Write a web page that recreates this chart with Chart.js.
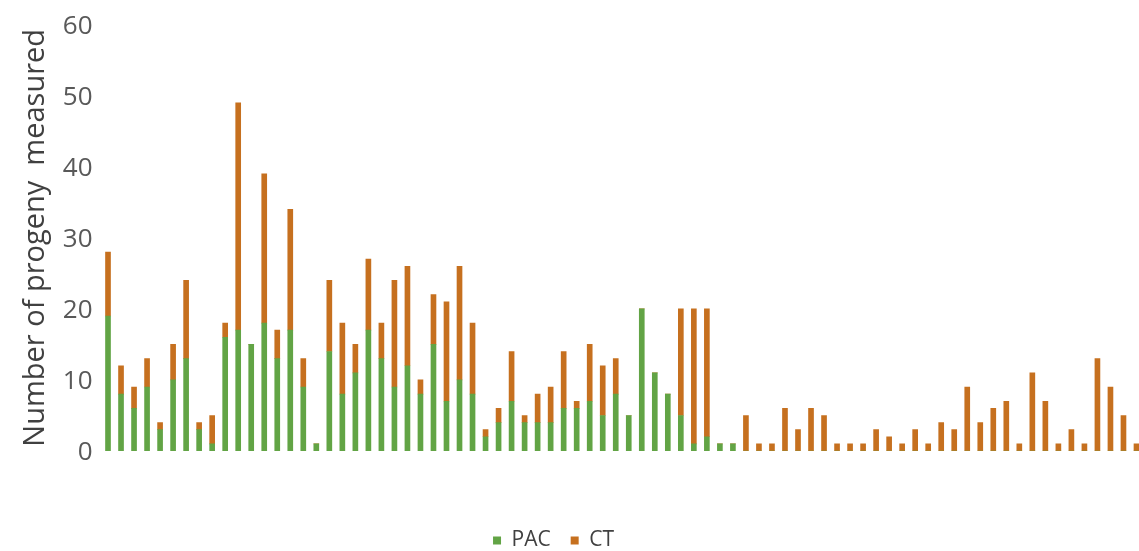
<!DOCTYPE html>
<html>
<head>
<meta charset="utf-8">
<script src="https://cdn.jsdelivr.net/npm/chart.js@4/dist/chart.umd.min.js"></script>
<style>
html,body{margin:0;padding:0;background:#fff;overflow:hidden;width:1139px;height:551px;}
canvas{display:block;}
</style>
</head>
<body>
<canvas id="c" width="1146" height="551"></canvas>
<script>
const categories = Array.from({length: 80}, (_, i) => String(i + 1));
const pacValues = [19,8,6,9,3,10,13,3,1,16,17,15,18,13,17,9,1,14,8,11,
                   17,13,9,12,8,15,7,10,8,2,4,7,4,4,4,6,6,7,5,8,
                   5,20,11,8,5,1,2,1,1,0,0,0,0,0,0,0,0,0,0,0,
                   0,0,0,0,0,0,0,0,0,0,0,0,0,0,0,0,0,0,0,0];
const ctValues  = [9,4,3,4,1,5,11,1,4,2,32,0,21,4,17,4,0,10,10,4,
                   10,5,15,14,2,7,14,16,10,1,2,7,1,4,5,8,1,8,7,5,
                   0,0,0,0,15,19,18,0,0,5,1,1,6,3,6,5,1,1,1,3,
                   2,1,3,1,4,3,9,4,6,7,1,11,7,1,3,1,13,9,5,1];
const yTicks = [0,10,20,30,40,50,60];

const FONT = "'Open Sans', Lato, sans-serif";

const legendShift = {
  id: 'legendShift',
  afterLayout(chart) {
    const lg = chart.legend;
    if (lg) { lg.left -= 27; lg.right -= 27; lg.top += 10; lg.bottom += 10; }
  }
};

new Chart(document.getElementById('c'), {
  type: 'bar',
  data: {
    labels: categories,
    datasets: [
      { label: 'PAC', data: pacValues, backgroundColor: '#62a445', barThickness: 5, stack: 's' },
      { label: 'CT', data: ctValues, backgroundColor: '#c6701f', barThickness: 5, stack: 's' }
    ]
  },
  options: {
    responsive: false,
    animation: false,
    layout: { padding: { top: 24, left: 18, right: 3, bottom: 0 } },
    plugins: {
      legend: {
        position: 'bottom',
        labels: {
          boxWidth: 8, boxHeight: 8, padding: 20,
          color: '#404040',
          font: { family: FONT, size: 21 }
        }
      },
      tooltip: { enabled: false }
    },
    scales: {
      x: {
        stacked: true,
        grid: { display: false, drawTicks: false },
        border: { display: false },
        ticks: { display: false },
        afterFit(scale) { scale.height = 49; }
      },
      y: {
        stacked: true,
        min: 0, max: 60,
        afterBuildTicks(scale) { scale.ticks = yTicks.map(v => ({ value: v })); },
        grid: { display: false, drawTicks: false },
        border: { display: false },
        ticks: { color: '#595959', padding: 9, labelOffset: 2, font: { family: FONT, size: 26 } },
        title: {
          display: true,
          text: 'Number of progeny  measured',
          color: '#404040',
          padding: { top: 0, bottom: 4 },
          font: { family: FONT, size: 29 }
        },
        afterFit(scale) { scale.width = 83.5; }
      }
    }
  },
  plugins: [legendShift]
});
</script>
</body>
</html>
